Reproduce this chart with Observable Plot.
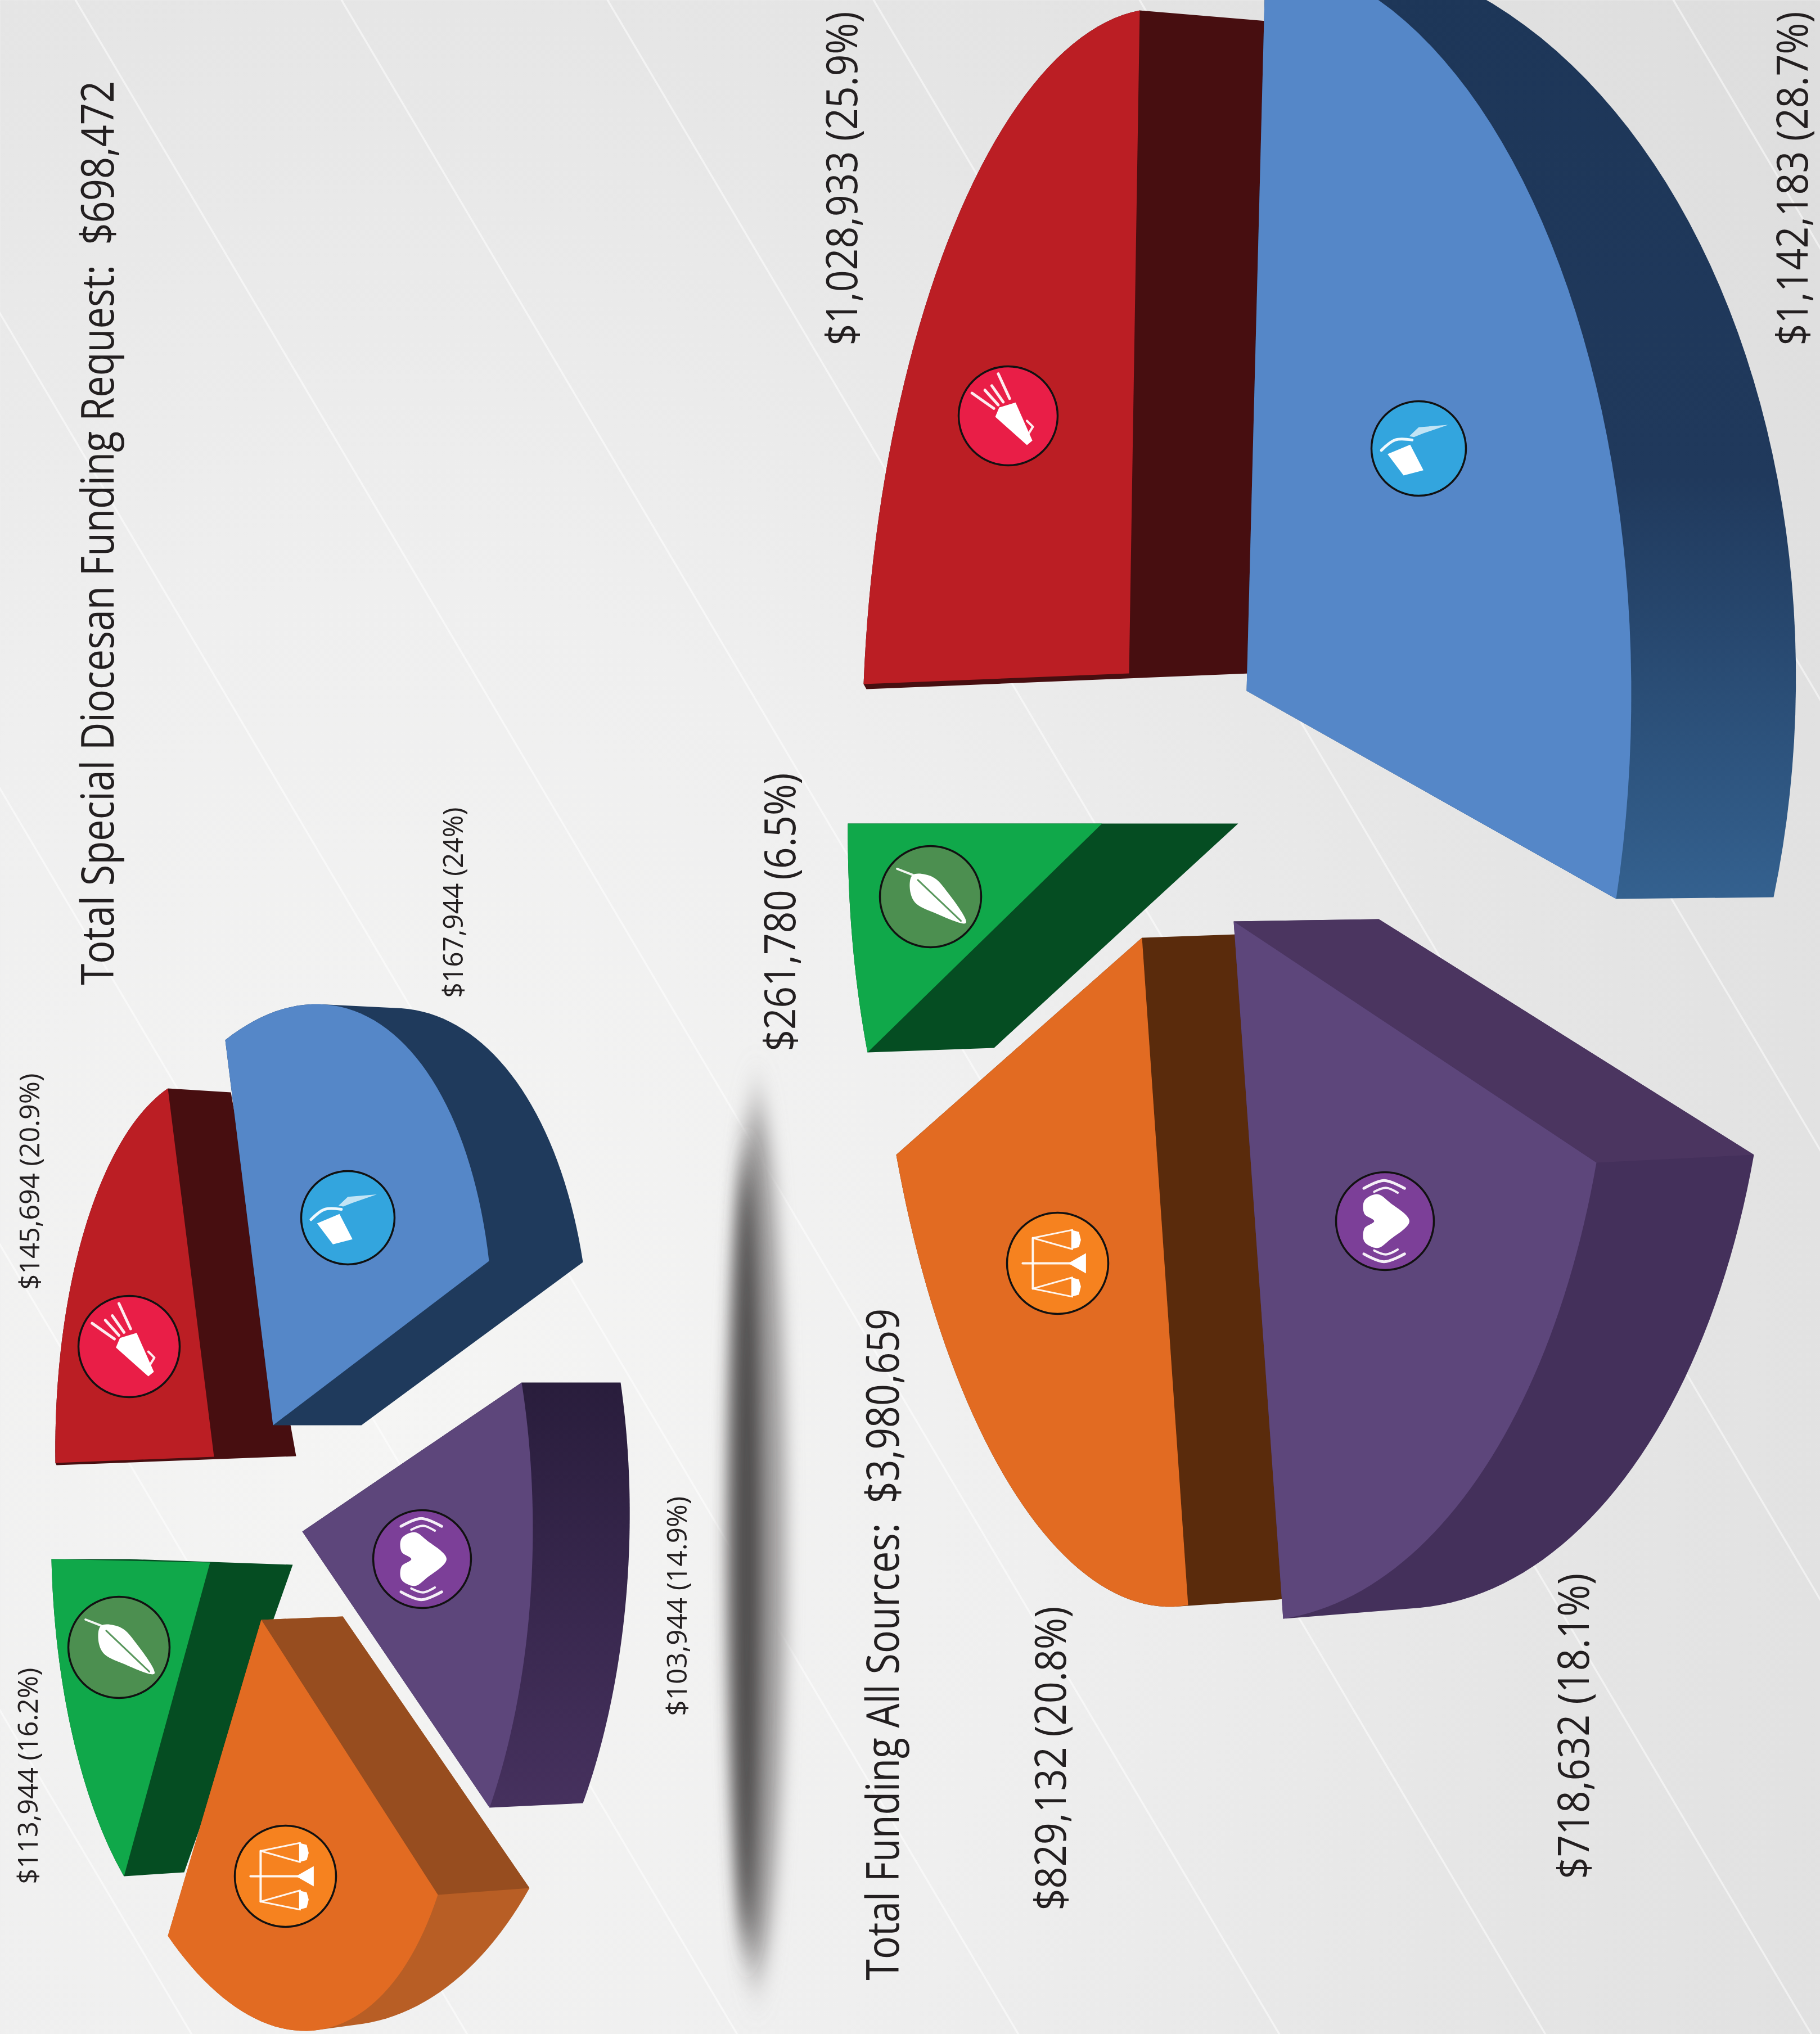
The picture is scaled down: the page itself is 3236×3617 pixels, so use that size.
<!DOCTYPE html>
<html><head><meta charset="utf-8">
<script src="https://cdn.jsdelivr.net/npm/d3@7"></script>
<script src="https://cdn.jsdelivr.net/npm/@observablehq/plot@0.6"></script>
<style>html,body{margin:0;padding:0;background:#eee}svg{display:block;max-width:none}</style>
</head><body><div id="chart"></div>
<script>
// ---------- data ----------
const categories = ["cup", "heart", "scales", "leaf", "megaphone"];
const totalValues = [1142183, 718632, 829132, 261780, 1028933];
const totalPercents = ["28.7", "18.1", "20.8", "6.5", "25.9"];
const specialValues = [167944, 103944, 166946, 113944, 145694];
const specialPercents = ["24", "14.9", null, "16.2", "20.9"];
const titleTotal = "Total Funding All Sources:  $3,980,659";
const titleSpecial = "Total Special Diocesan Funding Request:  $698,472";

// ---------- layout (picture space of the x / y scales) ----------
const W = 3236, H = 3617;
const faceColors = {cup:"#5587c8", heart:"#5d467b", scales:"#e26b22", leaf:"#10a84a", megaphone:"#bb1e24"};
const iconColors = {cup:"#33a5de", heart:"#7c3f98", scales:"#f6821f", leaf:"#4c8f50", megaphone:"#e91e47"};
// each slice: apex + two rim corners of the upper face, same three for the lower face
const totalLayout = {
  megaphone:{top:[[2007,1197],[2026,18],[1535,1216]], base:[[2222,1197],[2252,37],[1540,1225]], side:"#470e10", k:.93, icon:[1792,739,88]},
  cup:{top:[[2216,1228],[2250,-80],[2873,1598]], base:[[2300,1228],[2440,-80],[3153,1595]], side:"url(#bigBlue)", kb:.95, icon:[2522,797,84]},
  leaf:{top:[[1959,1464],[1507,1464],[1542,1871]], base:[[2201,1464],[1750,1464],[1767,1863]], side:"#054d22", icon:[1654,1594,90]},
  scales:{top:[[2030,1667],[1593,2053],[2112,2854]], base:[[2199,1661],[1800,2053],[2284,2842]], side:"#5a2b0c", icon:[1880,2246,90]},
  heart:{top:[[2193,1638],[2838,2067],[2281,2878]], base:[[2451,1634],[3118,2053],[2430,2856]], side:"#44305b", face:"#4b3560", kb:1.15, icon:[2462,2171,87]}
};
const specialLayout = {
  megaphone:{top:[[380,2590],[298,1935],[98,2601]], base:[[526,2589],[410,1942],[100,2605]], side:"#470e10", icon:[229,2394,90]},
  cup:{top:[[485,2534],[400,1849],[869,2242]], base:[[642,2534],[560,1835],[1036,2244]], side:"#1f3a5c", k:1.05, icon:[618,2165,83]},
  heart:{top:[[537,2723],[927,2458],[870,3214]], base:[[713,2723],[1103,2458],[1036,3206]], side:"url(#smallPurple)", icon:[750,2772,87]},
  leaf:{top:[[373,2778],[91,2772],[220,3336]], base:[[520,2782],[230,2772],[327,3329]], side:"#054d22", k:.92, icon:[211,2929,90]},
  scales:{top:[[464,2880],[778,3369],[298,3442]], base:[[609,2874],[941,3357],[330,3450]], side:"#b85e25", face:"#974d1f", k:1.02, icon:[507,3336,90]}
};
const totalOrder = ["megaphone","cup","leaf","scales","heart"];
const specialOrder = ["megaphone","cup","heart","leaf","scales"];

const labelSpots = {
  total:{cup:[3213,614,594], heart:[2824,3341,544], scales:[1894,3397,541], leaf:[1413,1869,495], megaphone:[1523,614,594]},
  special:{cup:[822,1774,339], heart:[1220,3051,391], leaf:[66,3350,385], megaphone:[69,2293,385]}
};
const titleSpots = [
  {text:titleSpecial, x:201, y:1751, size:80, len:1608},
  {text:titleTotal, x:1597, y:3521, size:80, len:1195}
];

const lineOffsets = [-2750,-2270,-1800,-1310,-830,-330,134,607,1080,1553,2026,2500,2975];
const lineSlope = 1.69;

// icon glyphs in units of the badge radius
const glyphs = {
  megaphone:[
    {fill:[[-.26,.02],[-.18,-.17],[.15,-.27],[.49,.5],[.38,.59]]},
    {line:[[-.73,-.46],[-.29,-.15]],w:5},{line:[[-.47,-.52],[-.2,-.22]],w:5},
    {line:[[-.33,-.61],[-.1,-.28]],w:5},{line:[[-.2,-.85],[.03,-.35]],w:5},
    {line:[[.38,.1],[.5,.22],[.42,.35]],w:4}
  ],
  cup:[
    {fill:[[-.66,.12],[-.18,-.08],[.1,.46],[-.32,.57]]},
    {fill:[[-.2,-.26],[0,-.45],[.62,-.5],[.1,-.32],[-.1,-.24]],o:.7},
    {line:[[-.79,.04],[-.5,-.18],[-.14,-.18]],w:5,smooth:true}
  ],
  leaf:[
    {fill:[[-.35,-.43],[.04,-.39],[.35,-.07],[.7,.52],[.08,.32],[-.31,.11],[-.41,-.18]]},
    {line:[[-.66,-.55],[-.35,-.43]],w:4},
    {line:[[-.25,-.33],[.6,.48]],w:3,c:"#4c8f50"}
  ],
  scales:[
    {line:[[-.69,0],[.3,0]],w:4},{fill:[[.21,0],[.56,-.2],[.56,.2]]},
    {line:[[-.49,-.5],[-.49,.5]],w:4},
    {line:[[-.49,-.5],[.29,-.66]],w:3},{line:[[-.49,-.5],[.29,-.28]],w:3},
    {line:[[-.49,.5],[.29,.28]],w:3},{line:[[-.49,.5],[.29,.66]],w:3},
    {fill:[[.27,-.66],[.42,-.62],[.46,-.46],[.42,-.32],[.27,-.28]]},
    {fill:[[.27,.28],[.42,.32],[.46,.46],[.42,.62],[.27,.66]]}
  ],
  heart:[
    {fill:[[.5,0],[.1,-.38],[-.15,-.55],[-.42,-.42],[-.42,-.15],[-.22,0],[-.42,.15],[-.42,.42],[-.15,.55],[.1,.38]]},
    {line:[[-.43,-.67],[-.02,-.83],[.4,-.67]],w:5,smooth:true},{line:[[-.22,-.6],[.02,-.68],[.26,-.58]],w:4,smooth:true},
    {line:[[-.43,.67],[-.02,.83],[.4,.67]],w:5,smooth:true},{line:[[-.22,.6],[.02,.68],[.26,.58]],w:4,smooth:true}
  ]
};

// ---------- geometry derived from the values ----------
function spans(values) {
  const arcs = d3.pie().sort(null)(values);
  return Object.fromEntries(categories.map((c, i) => [c, arcs[i].endAngle - arcs[i].startAngle]));
}
function rim([A, E1, E2], phi) {
  const e1 = [E1[0]-A[0], E1[1]-A[1]], e2 = [E2[0]-A[0], E2[1]-A[1]], s = Math.sin(phi);
  return d3.range(0, 49).map(i => {
    const t = phi * i / 48, a = Math.sin(phi - t) / s, b = Math.sin(t) / s;
    return [A[0] + a*e1[0] + b*e2[0], A[1] + a*e1[1] + b*e2[1]];
  });
}
const area = (pts, fill) => Plot.line(pts, {x:d => d[0], y:d => d[1], fill, stroke:"none", curve:"linear"});

function pieMarks(layout, order, values) {
  const phi = spans(values);
  return order.flatMap(c => {
    const s = layout[c];
    const topRim = rim(s.top, phi[c] * (s.k ?? 1));
    const baseRim = rim(s.base, phi[c] * (s.kb ?? 1));
    const hull = d3.polygonHull([...topRim, s.top[0], ...baseRim, s.base[0]]);
    const marks = [area(hull, s.side)];
    if (s.face) marks.push(area([s.top[0], s.top[1], s.base[1], s.base[0]], s.face));
    marks.push(area([s.top[0], ...topRim], faceColors[c]));
    return marks;
  });
}
function iconMarks(layout, order) {
  return order.flatMap(c => {
    const [cx, cy, r] = layout[c].icon;
    const place = pts => pts.map(([u, v]) => [cx + u*r, cy + v*r]);
    const out = [Plot.dot([[cx, cy]], {x:d => d[0], y:d => d[1], r, fill:iconColors[c], stroke:"#111", strokeWidth:3.5})];
    for (const g of glyphs[c]) {
      if (g.fill) out.push(Plot.line(place(g.fill), {x:d => d[0], y:d => d[1], fill:"#fff", fillOpacity:g.o ?? 1, stroke:"none",
        curve:(c === "heart" || c === "leaf") ? "catmull-rom-closed" : "linear"}));
      else out.push(Plot.line(place(g.line), {x:d => d[0], y:d => d[1], stroke:g.c ?? "#fff", strokeOpacity:.92, strokeWidth:g.w,
        curve:g.smooth ? "catmull-rom" : "linear"}));
    }
    return out;
  });
}
const money = d3.format(",");
function labelRows(values, percents, spots) {
  return categories.flatMap((c, i) => {
    if (percents[i] == null) return [];
    const [x, y, len] = spots[c];
    return [{text:`$${money(values[i])} (${percents[i]}%)`, x, y, len}];
  });
}
const textRows = [
  ...titleSpots,
  ...labelRows(totalValues, totalPercents, labelSpots.total).map(d => ({...d, size:76})),
  ...labelRows(specialValues, specialPercents, labelSpots.special).map(d => ({...d, size:50}))
];
const ellipse = (cx, cy, rx, ry) => d3.range(0, 73).map(i => [cx + rx*Math.cos(i/72*2*Math.PI), cy + ry*Math.sin(i/72*2*Math.PI)]);

const chart = Plot.plot({
  width:W, height:H, margin:0,
  x:{domain:[0,W], range:[0,W], axis:null},
  y:{domain:[0,H], range:[0,H], axis:null},
  style:{background:"transparent"},
  marks:[
    Plot.frame({fill:"url(#bg)", stroke:"none"}),
    ...lineOffsets.map(x0 => Plot.line([[x0,0],[x0 + H/lineSlope, H]], {x:d => d[0], y:d => d[1], stroke:"#fff", strokeOpacity:.5, strokeWidth:3.5})),
    Plot.line(ellipse(1345,2735,52,780), {x:d => d[0], y:d => d[1], fill:"#a2a0a0", stroke:"none", ariaDescription:"shadow"}),
    Plot.line(ellipse(1327,2760,26,700), {x:d => d[0], y:d => d[1], fill:"#4e4c4c", stroke:"none", ariaDescription:"shadow"}),
    ...pieMarks(totalLayout, totalOrder, totalValues),
    ...pieMarks(specialLayout, specialOrder, specialValues),
    ...iconMarks(totalLayout, totalOrder),
    ...iconMarks(specialLayout, specialOrder),
    Plot.text(textRows, {x:"x", y:"y", text:"text", rotate:-90, textAnchor:"start", lineAnchor:"bottom",
      fontSize:"size", fontFamily:"Open Sans", fill:"#231f20", ariaDescription:"labels"})
  ]
});
d3.select(chart).append("defs").html(`
  <radialGradient id="bg" gradientUnits="userSpaceOnUse" cx="700" cy="2500" r="3900" gradientTransform="translate(0,2500) scale(1,1.25) translate(0,-2500)">
    <stop offset="0" stop-color="#f5f5f4"/><stop offset=".3" stop-color="#efefef"/><stop offset=".51" stop-color="#e6e6e6"/><stop offset=".76" stop-color="#dfdfdf"/><stop offset="1" stop-color="#dadada"/>
  </radialGradient>
  <linearGradient id="bigBlue" x1="0" y1="0" x2="0" y2="1">
    <stop offset="0" stop-color="#1d3658"/><stop offset=".55" stop-color="#20395c"/><stop offset="1" stop-color="#34618f"/>
  </linearGradient>
  <linearGradient id="smallPurple" x1="0" y1="0" x2="0" y2="1">
    <stop offset="0" stop-color="#291d3c"/><stop offset="1" stop-color="#46315e"/>
  </linearGradient>
  <filter id="blur" filterUnits="userSpaceOnUse" x="1000" y="1500" width="800" height="2117">
    <feGaussianBlur stdDeviation="15 45"/>
  </filter>`);
chart.querySelectorAll('[aria-description="shadow"]').forEach(g => g.setAttribute("filter", "url(#blur)"));
document.getElementById("chart").append(chart);
// condense each label along its own direction so it spans the same length as in the picture
chart.querySelectorAll('[aria-description="labels"] text').forEach((t, i) => {
  t.style.whiteSpace = "pre";
  const sx = textRows[i].len / t.getComputedTextLength();
  t.setAttribute("transform", `${t.getAttribute("transform") ?? ""} scale(${sx},1)`);
});
</script></body></html>
